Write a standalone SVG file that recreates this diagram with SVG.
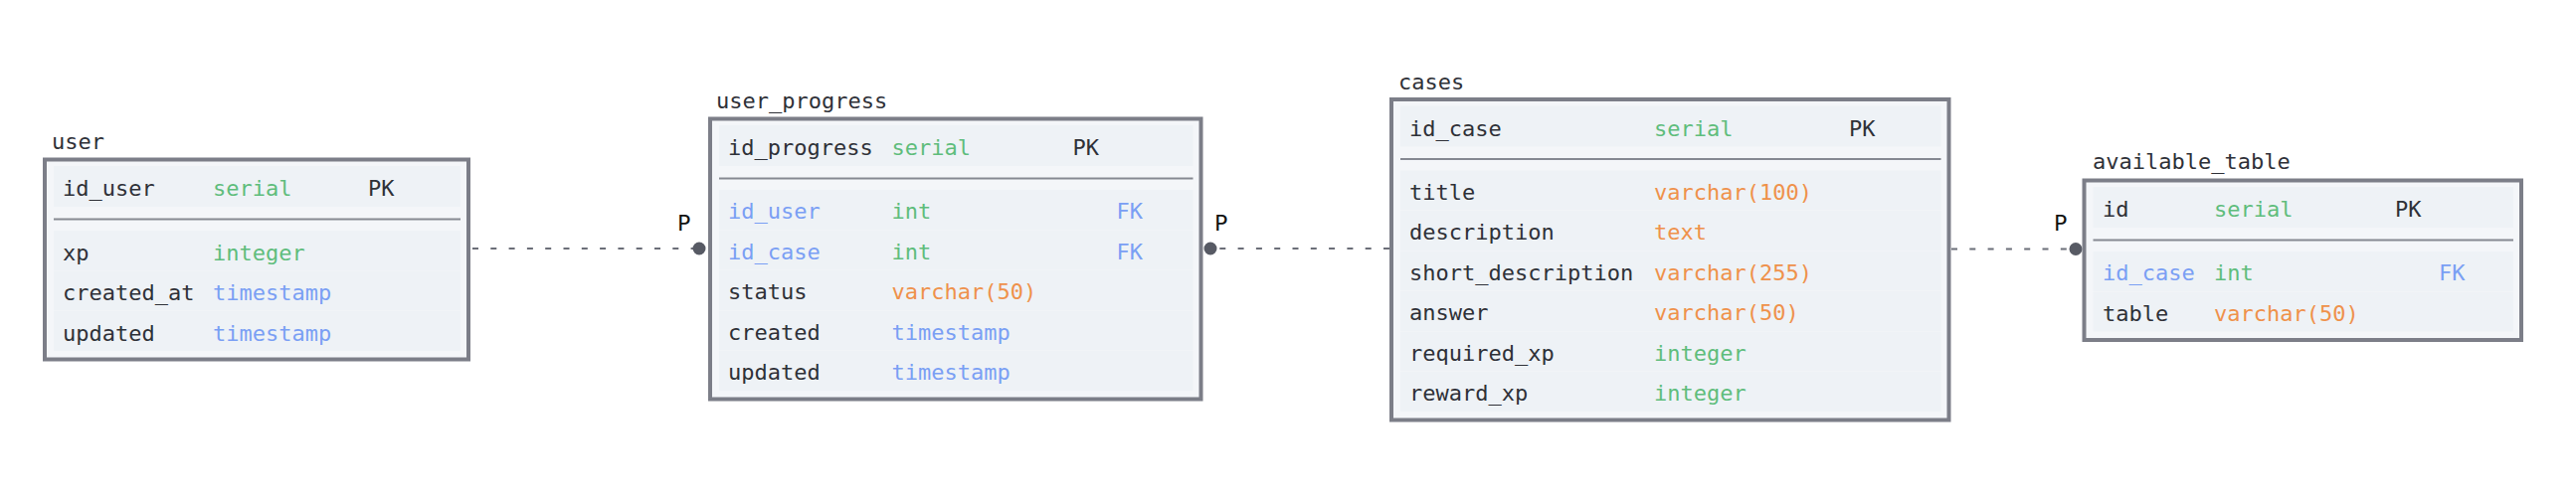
<svg xmlns="http://www.w3.org/2000/svg" width="2590" height="506" viewBox="0 0 2590 506">
<style>
.box{fill:#f4f6f9;stroke:#7c7e88;stroke-width:4}
.row{fill:#eef2f6}
.div{stroke:#868992;stroke-width:2}
text{font-family:"DejaVu Sans Mono","Liberation Mono",monospace;font-size:22px}
.t{fill:#2f3138}
.n{fill:#2f3138}
.g{fill:#5fbd7c}
.b{fill:#7a9ff4}
.o{fill:#ef914b}
.lbl{font-family:"DejaVu Sans","Liberation Sans",sans-serif;font-size:22px;fill:#111111}
.conn{stroke:#6b6e78;stroke-width:2;stroke-dasharray:6 12.3;fill:none}
.dot{fill:#575a64}
</style>
<rect width="2590" height="506" fill="#ffffff"/>
<g id="connectors">
<line class="conn" x1="475" y1="250" x2="703" y2="250"/>
<circle class="dot" cx="703" cy="250" r="6.5"/>
<text class="lbl" x="681" y="232">P</text>
<line class="conn" x1="1397" y1="250" x2="1217" y2="250"/>
<circle class="dot" cx="1217" cy="250" r="6.5"/>
<text class="lbl" x="1221" y="232">P</text>
<line class="conn" x1="1962" y1="250.5" x2="2087" y2="250.5"/>
<circle class="dot" cx="2087" cy="250.5" r="6.5"/>
<text class="lbl" x="2065" y="232">P</text>
</g>
<g id="user">
<text class="t" x="52" y="150">user</text>
<rect class="box" x="45" y="160.5" width="426" height="201"/>
<rect class="row" x="54" y="167" width="409" height="41"/>
<line class="div" x1="54" y1="220.5" x2="463" y2="220.5"/>
<rect class="row" x="54" y="232" width="409" height="40"/>
<rect class="row" x="54" y="272.5" width="409" height="40"/>
<rect class="row" x="54" y="313" width="409" height="40"/>
<text class="n" x="63" y="197">id_user</text><text class="g" x="214" y="197">serial</text><text class="n" x="370" y="197">PK</text>
<text class="n" x="63" y="261.5">xp</text><text class="g" x="214" y="261.5">integer</text>
<text class="n" x="63" y="302">created_at</text><text class="b" x="214" y="302">timestamp</text>
<text class="n" x="63" y="342.5">updated</text><text class="b" x="214" y="342.5">timestamp</text>
</g>
<g id="user_progress">
<text class="t" x="720" y="109">user_progress</text>
<rect class="box" x="714" y="119.5" width="493.5" height="282"/>
<rect class="row" x="723" y="126" width="476.5" height="41"/>
<line class="div" x1="723" y1="179.5" x2="1199.5" y2="179.5"/>
<rect class="row" x="723" y="191" width="476.5" height="40"/>
<rect class="row" x="723" y="231.5" width="476.5" height="40"/>
<rect class="row" x="723" y="272" width="476.5" height="40"/>
<rect class="row" x="723" y="312.5" width="476.5" height="40"/>
<rect class="row" x="723" y="353" width="476.5" height="40"/>
<text class="n" x="732" y="156">id_progress</text><text class="g" x="896.5" y="156">serial</text><text class="n" x="1078.5" y="156">PK</text>
<text class="b" x="732" y="220">id_user</text><text class="g" x="896.5" y="220">int</text><text class="b" x="1122.5" y="220">FK</text>
<text class="b" x="732" y="260.5">id_case</text><text class="g" x="896.5" y="260.5">int</text><text class="b" x="1122.5" y="260.5">FK</text>
<text class="n" x="732" y="301">status</text><text class="o" x="896.5" y="301">varchar(50)</text>
<text class="n" x="732" y="341.5">created</text><text class="b" x="896.5" y="341.5">timestamp</text>
<text class="n" x="732" y="382">updated</text><text class="b" x="896.5" y="382">timestamp</text>
</g>
<g id="cases">
<text class="t" x="1406" y="89.5">cases</text>
<rect class="box" x="1399" y="100" width="560.5" height="322.5"/>
<rect class="row" x="1408" y="106.5" width="543.5" height="41"/>
<line class="div" x1="1408" y1="160" x2="1951.5" y2="160"/>
<rect class="row" x="1408" y="171.5" width="543.5" height="40"/>
<rect class="row" x="1408" y="212" width="543.5" height="40"/>
<rect class="row" x="1408" y="252.5" width="543.5" height="40"/>
<rect class="row" x="1408" y="293" width="543.5" height="40"/>
<rect class="row" x="1408" y="333.5" width="543.5" height="40"/>
<rect class="row" x="1408" y="374" width="543.5" height="40"/>
<text class="n" x="1417" y="136.5">id_case</text><text class="g" x="1663" y="136.5">serial</text><text class="n" x="1859" y="136.5">PK</text>
<text class="n" x="1417" y="200.5">title</text><text class="o" x="1663" y="200.5">varchar(100)</text>
<text class="n" x="1417" y="241">description</text><text class="o" x="1663" y="241">text</text>
<text class="n" x="1417" y="281.5">short_description</text><text class="o" x="1663" y="281.5">varchar(255)</text>
<text class="n" x="1417" y="322">answer</text><text class="o" x="1663" y="322">varchar(50)</text>
<text class="n" x="1417" y="362.5">required_xp</text><text class="g" x="1663" y="362.5">integer</text>
<text class="n" x="1417" y="403">reward_xp</text><text class="g" x="1663" y="403">integer</text>
</g>
<g id="available_table">
<text class="t" x="2104" y="170">available_table</text>
<rect class="box" x="2095.5" y="181.5" width="439.5" height="160.5"/>
<rect class="row" x="2104.5" y="188" width="422.5" height="41"/>
<line class="div" x1="2104.5" y1="241.5" x2="2527" y2="241.5"/>
<rect class="row" x="2104.5" y="253" width="422.5" height="40"/>
<rect class="row" x="2104.5" y="293.5" width="422.5" height="40"/>
<text class="n" x="2114" y="218">id</text><text class="g" x="2226" y="218">serial</text><text class="n" x="2408" y="218">PK</text>
<text class="b" x="2114" y="282">id_case</text><text class="g" x="2226" y="282">int</text><text class="b" x="2452" y="282">FK</text>
<text class="n" x="2114" y="322.5">table</text><text class="o" x="2226" y="322.5">varchar(50)</text>
</g>
</svg>
